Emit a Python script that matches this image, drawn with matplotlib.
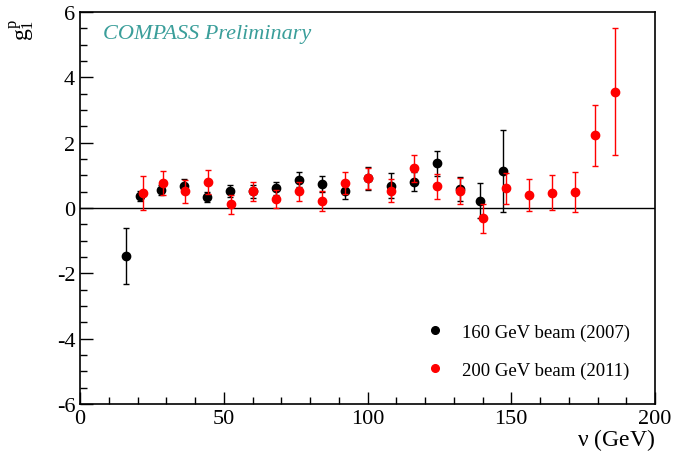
import matplotlib
matplotlib.use("Agg")
import matplotlib.pyplot as plt
from matplotlib.ticker import MultipleLocator
from matplotlib.lines import Line2D

# 160 GeV beam (2007)
x_2007 = [16, 21, 28, 36, 44, 52, 60, 68, 76, 84, 92, 100, 108, 116, 124, 132, 139, 147]
y_2007 = [-1.47, 0.36, 0.56, 0.68, 0.33, 0.51, 0.51, 0.60, 0.86, 0.73, 0.51, 0.91, 0.68, 0.81, 1.37, 0.58, 0.22, 1.13]
e_2007 = [0.85, 0.16, 0.15, 0.20, 0.16, 0.18, 0.20, 0.20, 0.23, 0.25, 0.23, 0.35, 0.38, 0.30, 0.38, 0.38, 0.54, 1.25]

# 200 GeV beam (2011)
x_2011 = [22, 29, 36.5, 44.5, 52.5, 60.3, 68, 76, 84, 92, 100, 108, 116, 124, 132, 140, 148, 156, 164, 172, 179, 186]
y_2011 = [0.46, 0.77, 0.51, 0.79, 0.11, 0.51, 0.27, 0.51, 0.21, 0.77, 0.91, 0.53, 1.21, 0.66, 0.51, -0.32, 0.60, 0.40, 0.47, 0.49, 2.22, 3.56]
e_2011 = [0.52, 0.37, 0.36, 0.36, 0.30, 0.30, 0.27, 0.30, 0.30, 0.33, 0.32, 0.35, 0.42, 0.38, 0.40, 0.43, 0.47, 0.50, 0.53, 0.62, 0.93, 1.94]

labels = ['160 GeV beam (2007)', '200 GeV beam (2011)']

plt.rcParams['font.family'] = ['Liberation Serif', 'DejaVu Serif']
plt.rcParams['mathtext.fontset'] = 'custom'
plt.rcParams['mathtext.rm'] = 'Liberation Serif'
plt.rcParams['mathtext.it'] = 'Liberation Serif'

fig = plt.figure(figsize=(6.73, 4.52), dpi=100)
ax = fig.add_axes([80/673, 1 - 405/452, (655 - 80)/673, (405 - 13)/452])

ax.axhline(0, color='black', lw=1.0, zorder=1)

ax.errorbar(x_2007, y_2007, yerr=e_2007, fmt='o', color='black', ms=6,
            elinewidth=1.0, capsize=2, capthick=1.0, zorder=3)
ax.errorbar(x_2011, y_2011, yerr=e_2011, fmt='o', color='#ff0000', ms=6,
            elinewidth=1.0, capsize=2, capthick=1.0, zorder=4)

ax.set_xlim(0, 200)
ax.set_ylim(-6, 6)
ax.xaxis.set_major_locator(MultipleLocator(50))
ax.xaxis.set_minor_locator(MultipleLocator(10))
ax.yaxis.set_major_locator(MultipleLocator(2))
ax.yaxis.set_minor_locator(MultipleLocator(0.5))
ax.tick_params(which='both', direction='in', top=False, right=False, labelsize=16)
ax.tick_params(which='major', length=9, width=1)
ax.tick_params(which='minor', length=5, width=1)
ax.set_yticks([-6, -4, -2, 0, 2, 4, 6])
ax.set_yticklabels(['-6', '-4', '-2', '0', '2', '4', '6'])
for s in ax.spines.values():
    s.set_linewidth(1.2)

ax.text(0.04, 0.944, 'COMPASS Preliminary', transform=ax.transAxes,
        fontsize=16, style='italic', color='#3a9e9a', va='center', ha='left')

fig.text(655/673, 1 - 440/452, r'$\nu$ (GeV)', fontsize=17, ha='right', va='center')
fig.text(22/673, 1 - 30/452, r'$g_1^p$', fontsize=17, rotation=90, ha='center', va='center')

h = [Line2D([], [], marker='o', ls='none', color='black', ms=5.5),
     Line2D([], [], marker='o', ls='none', color='#ff0000', ms=5.5)]
ax.legend(h, labels, loc='lower right', bbox_to_anchor=(0.985, 0.022),
          frameon=False, fontsize=13.5, labelspacing=1.1, handletextpad=0.9,
          handlelength=1.0)

fig.savefig('out.png', dpi=100)
